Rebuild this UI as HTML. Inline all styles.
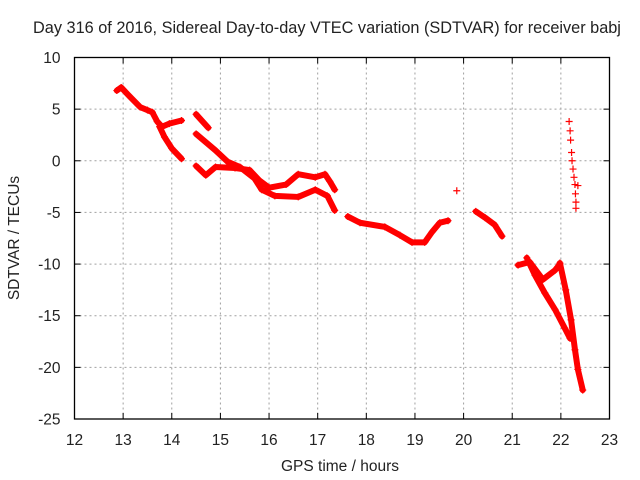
<!DOCTYPE html>
<html><head><meta charset="utf-8"><style>
body{margin:0;background:#fff}
svg{display:block;font-family:"Liberation Sans",sans-serif}
</style></head><body>
<svg id="chart" width="640" height="480">
<text x="327" y="33" font-size="16.3" text-anchor="middle" fill="#222">Day 316 of 2016, Sidereal Day-to-day VTEC variation (SDTVAR) for receiver babj</text>
<text x="340" y="471" font-size="15.5" text-anchor="middle" fill="#222">GPS time / hours</text>
<text x="19" y="238" font-size="15.5" text-anchor="middle" fill="#222" transform="rotate(-90 19 238)">SDTVAR / TECUs</text>
<g id="grid"></g>
<g id="axes"></g>
<g id="series"></g>
</svg>
<script>
const xTicks=[12,13,14,15,16,17,18,19,20,21,22,23];
const yTicks=[10,5,0,-5,-10,-15,-20,-25];
const segA=[[12.87,6.8],[12.96,7.1],[13.1,6.4],[13.35,5.2],[13.5,4.9],[13.6,4.7],[13.7,3.8],[13.8,3.3],[13.95,3.6],[14.2,3.9]];
const segB=[[13.75,3.3],[13.85,2.3],[14.0,1.2],[14.2,0.2]];
const segC=[[14.5,4.5],[14.75,3.2]];
const segD=[[14.5,2.6],[14.9,1.0],[15.15,-0.1],[15.4,-0.6],[15.7,-1.7],[15.85,-2.8],[16.12,-3.4],[16.6,-3.5],[16.95,-2.8],[17.2,-3.4],[17.35,-4.8]];
const segE=[[14.5,-0.5],[14.7,-1.4],[14.9,-0.6],[15.3,-0.7],[15.6,-0.9],[15.8,-1.9],[16.0,-2.6],[16.35,-2.3],[16.6,-1.3],[16.95,-1.6],[17.15,-1.3],[17.25,-2.0],[17.35,-2.8]];
const segF=[[17.62,-5.4],[17.87,-6.0],[18.38,-6.4],[18.69,-7.2],[18.94,-7.9],[19.2,-7.9],[19.35,-6.9],[19.51,-6.0],[19.68,-5.8]];
const segG=[[19.86,-2.9]];
const segH=[[20.25,-4.9],[20.44,-5.5],[20.64,-6.2],[20.79,-7.3]];
const segI=[[21.12,-10.1],[21.36,-9.8],[21.63,-11.5],[21.88,-10.6],[21.98,-10.0]];
const segJ=[[21.3,-9.4],[21.47,-11.1],[21.67,-12.8],[21.88,-14.4],[22.08,-16.2],[22.19,-17.2]];
const segK=[[21.98,-9.9],[22.1,-12.5],[22.21,-15.4],[22.29,-18.3],[22.35,-20.2],[22.45,-22.2]];
const segL=[[22.17,3.8],[22.19,2.9],[22.2,2.0],[22.22,0.8],[22.23,0],[22.25,-0.8],[22.27,-1.6],[22.29,-2.3],[22.3,-3.2],[22.31,-4.0],[22.31,-4.6],[22.35,-2.4]];
const lined=[segA,segB,segC,segD,segE,segF,segH,segI,segJ,segK];
const sparse=[segG,segL];
const X0=74.5,X1=609.5,Y0=57.5,Y1=419;
const sx=v=>X0+(v-12)/(23-12)*(X1-X0);
const sy=v=>Y0+(10-v)/(10+25)*(Y1-Y0);
const NS="http://www.w3.org/2000/svg";
function mk(t,a,p){const e=document.createElementNS(NS,t);for(const k in a)e.setAttribute(k,a[k]);p.appendChild(e);return e;}
const grid=document.getElementById('grid'),axes=document.getElementById('axes'),ser=document.getElementById('series');
xTicks.forEach(t=>{const x=sx(t);
 if(t>12&&t<23){const g=mk('line',{x1:x,y1:Y0,x2:x,y2:Y1,stroke:'#a0a0a0','stroke-dasharray':'2,3'},grid);
 
 }
 mk('line',{x1:x,y1:Y1,x2:x,y2:Y1-6,stroke:'#000'},axes);
 mk('line',{x1:x,y1:Y0,x2:x,y2:Y0+6,stroke:'#000'},axes);
 const l=mk('text',{x:x,y:Y1+26,'font-size':15.5,'text-anchor':'middle',fill:'#222'},axes);l.textContent=t;
 
 
});
yTicks.forEach(t=>{const y=sy(t);
 if(t<10&&t>-25){const g=mk('line',{x1:X0,y1:y,x2:X1,y2:y,stroke:'#a0a0a0','stroke-dasharray':'2,3'},grid);
 
 }
 mk('line',{x1:X0,y1:y,x2:X0+6,y2:y,stroke:'#000'},axes);
 mk('line',{x1:X1,y1:y,x2:X1-6,y2:y,stroke:'#000'},axes);
 const l=mk('text',{x:X0-14,y:y+5.5,'font-size':15.5,'text-anchor':'end',fill:'#222'},axes);l.textContent=t;
 
 
});
mk('rect',{x:X0,y:Y0,width:X1-X0,height:Y1-Y0,fill:'none',stroke:'#000','stroke-width':1.3},axes);
function plus(x,y){const p=mk('path',{d:`M${x-3.5},${y}h7M${x},${y-3.5}v7`,stroke:'#f00','stroke-width':1.2},ser);
 
 }
lined.forEach(s=>{const pl=mk('polyline',{points:s.map(p=>sx(p[0])+','+sy(p[1])).join(' '),fill:'none',stroke:'#f00','stroke-width':6,'stroke-linejoin':'round','stroke-linecap':'round'},ser);
 
 
 s.forEach(p=>plus(sx(p[0]),sy(p[1])));});
sparse.forEach(s=>s.forEach(p=>plus(sx(p[0]),sy(p[1]))));
</script>
</body></html>
